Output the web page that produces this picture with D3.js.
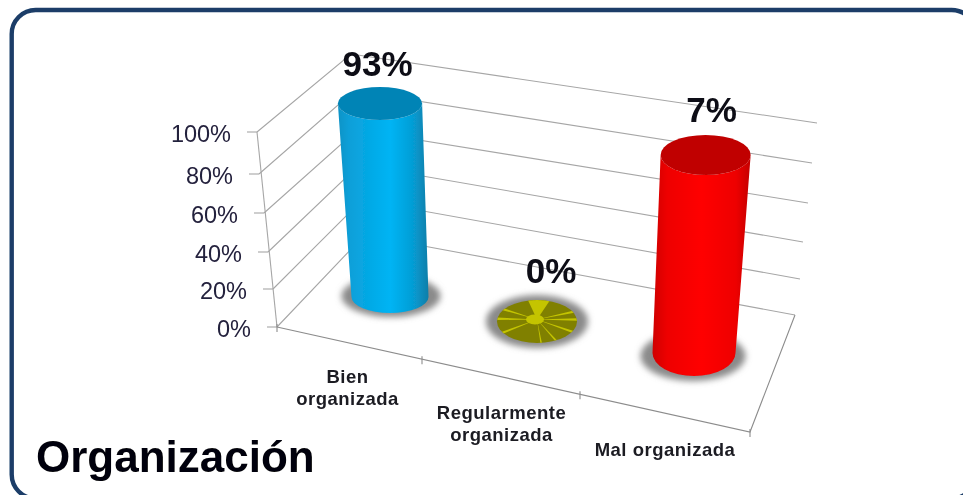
<!DOCTYPE html>
<html><head><meta charset="utf-8">
<style>html,body{margin:0;padding:0;background:#fff;overflow:hidden}svg{display:block}text{font-family:"Liberation Sans",Arial,sans-serif}</style>
<script src="https://cdn.jsdelivr.net/npm/d3@7/dist/d3.min.js"></script>
</head><body><svg id="c" width="963" height="495"></svg>
<script>
const title = "Organización";
const categories = ["Bien|organizada", "Regularmente|organizada", "Mal organizada"];
const labelValues = [93, 0, 7];
const drawnHeights = [93, 0, 90];
const yTicks = [0, 20, 40, 60, 80, 100];
const rayAngles = [197, 181, 159, 80, 48, 19, 0, -12];

const svg = d3.select("#c");
const defs = svg.append("defs");
defs.append("filter").attr("id","soft").attr("x","-5%").attr("y","-5%").attr("width","110%").attr("height","110%")
  .append("feGaussianBlur").attr("stdDeviation",0.5);
defs.append("filter").attr("id","shadow").attr("x","-30%").attr("y","-30%").attr("width","160%").attr("height","160%")
  .append("feGaussianBlur").attr("stdDeviation",3);
const grad = (id, stops) => {
  const g = defs.append("linearGradient").attr("id",id);
  stops.forEach(([o,c]) => g.append("stop").attr("offset",o).attr("stop-color",c));
};
grad("g0",[[0,"#1293c6"],[.12,"#0a9fd8"],[.58,"#00b4f4"],[.82,"#069ed6"],[1,"#0a7ea9"]]);
grad("g2",[[0,"#cf0000"],[.15,"#ee0000"],[.5,"#ff0000"],[.85,"#ee0000"],[1,"#c40000"]]);

const root = svg.append("g").attr("filter","url(#soft)");
root.append("rect").attr("x",11.7).attr("y",10).attr("width",964).attr("height",488.5).attr("rx",24)
  .attr("fill","#fff").attr("stroke","#1a3d68").attr("stroke-width",4.4);

// wall geometry as functions of the percent value
const frontX = d3.scaleLinear(yTicks,[277,273,268,264,259,257]);
const frontY = d3.scaleLinear(yTicks,[327,289,252,213,174,132]);
const cornerX = d3.scaleLinear(yTicks,[364.5,362,359,357,354,351]);
const cornerY = d3.scaleLinear(yTicks,[235,200,165,130,91,54]);
const rightX = d3.scaleLinear(yTicks,[795,800,803,808,812,817]);
const rightY = d3.scaleLinear(yTicks,[315,279,242,203,163,123]);
const edgeX = d3.scaleLinear([0,1,2,3],[277,422,580,750]);
const edgeY = d3.scaleLinear([277,750],[327,432]);

const grid = root.append("g").attr("fill","none").attr("stroke","#a6a6a6").attr("stroke-width",1.1);
const line = d3.line();
yTicks.forEach(t => {
  grid.append("path").attr("d",line([[frontX(t),frontY(t)],[cornerX(t),cornerY(t)],[rightX(t),rightY(t)]]));
  grid.append("path").attr("d",line([[frontX(t)-10,frontY(t)],[frontX(t),frontY(t)]]));
});
grid.append("path").attr("d",line([[frontX(100),frontY(100)],[frontX(0),frontY(0)]]));
const floorAxis = root.append("g").attr("fill","none").attr("stroke","#8c8c8c").attr("stroke-width",1.1);
floorAxis.append("path").attr("d",line([[edgeX(0),edgeY(edgeX(0))],[edgeX(3),edgeY(edgeX(3))],[rightX(0),rightY(0)]]));
[0,1,2,3].forEach(i => floorAxis.append("path")
  .attr("d",line([[edgeX(i),edgeY(edgeX(i))-3],[edgeX(i),edgeY(edgeX(i))+5]])));

// tick labels
root.append("g").selectAll("text").data(yTicks).join("text")
  .attr("x",t=>frontX(t)-26).attr("y",t=>frontY(t)+9.5).attr("text-anchor","end")
  .attr("font-size",23.5).attr("fill","#24203c").text(t=>t+"%");

// cylinders
const idx = categories.map((_,i)=>i);
const baseX = d3.scaleLinear([0,1,2],[390,537,694]);
const baseY = d3.scaleLinear([0,1,2],[297,321.5,353]);
const baseRx = d3.scaleLinear([0,1,2],[38.5,40,41.5]);
const baseRy = d3.scaleLinear([0,1,2],[16,21.5,23]);
const topRyShift = d3.scaleLinear([0,1,2],[0.5,0,-3]);
const pxPerUnit = d3.scaleLinear([0,1,2],[2.08,2.1,2.2]);
const topX = (i,v)=>baseX(i)+(baseX(i)-528)*0.00078*v;
const topY = (i,v)=>baseY(i)-pxPerUnit(i)*v;
const topRx = (i,v)=>baseRx(i)+0.039*v;
const topRy = i=>baseRy(i)+topRyShift(i);

const shadows = root.append("g");
idx.forEach(i=>{
  shadows.append("ellipse").attr("cx",baseX(i)+[1,0,-1][i]).attr("cy",baseY(i)+[-1,0,3][i])
    .attr("rx",baseRx(i)+[11,11,11][i]).attr("ry",baseRy(i)+[5,5,2][i])
    .attr("fill","#8a8a8a").attr("filter","url(#shadow)");
});
const topFill = ["#0484b6","#808000","#c00000"];
idx.forEach(i=>{
  const v = drawnHeights[i];
  if (v > 0) {
    const x0=baseX(i), y0=baseY(i), rx0=baseRx(i), ry0=baseRy(i);
    const x1=topX(i,v), y1=topY(i,v), rx1=topRx(i,v), ry1=topRy(i);
    root.append("path").attr("fill",`url(#g${i})`)
      .attr("d",`M${x1-rx1},${y1}L${x0-rx0},${y0}A${rx0},${ry0} 0 0 0 ${x0+rx0},${y0}L${x1+rx1},${y1}A${rx1},${ry1} 0 0 1 ${x1-rx1},${y1}Z`);
    root.append("ellipse").attr("cx",x1).attr("cy",y1).attr("rx",rx1).attr("ry",ry1).attr("fill",topFill[i]);
  } else {
    const cx=baseX(i), cy=baseY(i), rx=baseRx(i), ry=baseRy(i);
    defs.append("clipPath").attr("id","disc").append("ellipse").attr("cx",cx).attr("cy",cy).attr("rx",rx).attr("ry",ry);
    root.append("ellipse").attr("cx",cx).attr("cy",cy).attr("rx",rx).attr("ry",ry).attr("fill",topFill[i]);
    const rays = root.append("g").attr("clip-path","url(#disc)").attr("fill","#c4c400");
    const hx=cx, hy=cy-2, R=70, pt=(a)=>[hx+R*Math.cos(a*Math.PI/180),hy+R*Math.sin(a*Math.PI/180)];
    rays.append("path").attr("d",line([[hx,hy],pt(-115),pt(-56)])+"Z");
    rayAngles.forEach(a=>rays.append("path").attr("d",line([[hx,hy],pt(a-1.8),pt(a+1.8)])+"Z"));
    rays.append("ellipse").attr("cx",hx-2).attr("cy",hy).attr("rx",9).attr("ry",5);
  }
});

// data labels
const lblDx=[-2.5,14,6], lblDy=[-28,-39,-33];
root.append("g").selectAll("text").data(idx).join("text")
  .attr("x",i=>topX(i,drawnHeights[i])+lblDx[i]).attr("y",i=>topY(i,drawnHeights[i])+lblDy[i])
  .attr("text-anchor","middle").attr("font-size",35).attr("font-weight","bold").attr("fill","#0c0c14")
  .text(i=>labelValues[i]+"%");

// category labels
const catX=[347.5,501.5,665], catY=[383,419,456];
idx.forEach(i=>{
  root.append("text").attr("x",catX[i]).attr("y",catY[i]).attr("text-anchor","middle")
    .attr("font-size",18.5).attr("font-weight","bold").attr("letter-spacing",0.5).attr("fill","#1a1a22")
    .selectAll("tspan").data(categories[i].split("|")).join("tspan")
    .attr("x",catX[i]).attr("dy",(d,k)=>k?22:0).text(d=>d);
});

root.append("text").attr("x",36).attr("y",472).attr("font-size",44).attr("font-weight","bold")
  .attr("fill","#050508").text(title);
</script></body></html>
